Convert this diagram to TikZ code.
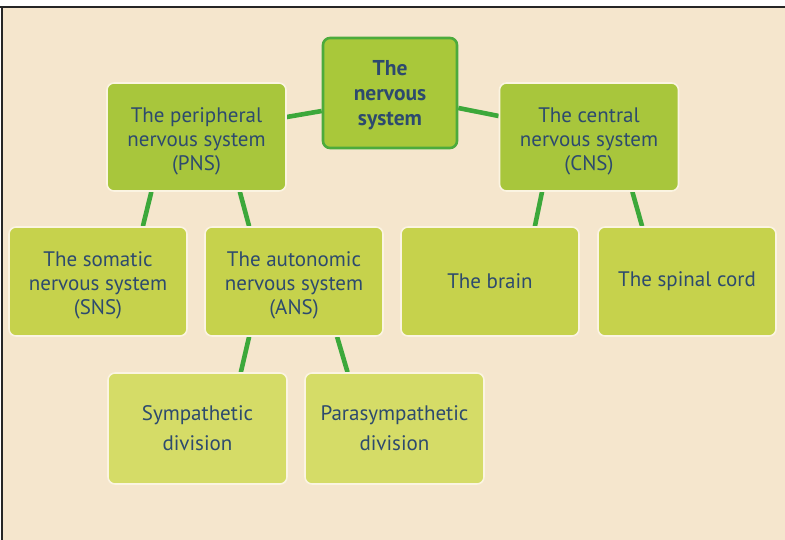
\documentclass[tikz,border=0pt]{standalone}
\usepackage{fontspec}
\setmainfont{PT Sans}
\usetikzlibrary{calc}
\pgfdeclarelayer{paper}
\pgfdeclarelayer{links}
\pgfsetlayers{paper,links,main}
\definecolor{paperbg}{HTML}{F5E6CD}
\definecolor{inkblue}{HTML}{2D4A6E}
\definecolor{linkgreen}{HTML}{3CA83A}
\definecolor{rootfill}{HTML}{A9C83A}
\definecolor{rootedge}{HTML}{4CAB3C}
\definecolor{topfill}{HTML}{A8C63C}
\definecolor{midfill}{HTML}{C6D24C}
\definecolor{lowfill}{HTML}{D5DC67}
\definecolor{rimcol}{HTML}{FBF4E2}
% taller first line pushes a text block a little lower in its box
\newcommand\firstline[1]{\rule{0pt}{#1}}
\tikzset{
  x=1pt, y=-1pt,
  box/.style={rectangle, rounded corners=7pt, align=center, text=inkblue,
    font=\fontsize{21}{24}\selectfont, draw=rimcol, line width=1.6pt, inner sep=0pt},
  rootbox/.style={box, fill=rootfill, draw=rootedge, line width=2.6pt,
    minimum width=134pt, minimum height=110pt, font=\bfseries\fontsize{21.5}{25}\selectfont},
  topbox/.style={box, fill=topfill, minimum width=179pt, minimum height=108pt},
  midbox/.style={box, fill=midfill, minimum width=178pt, minimum height=109pt},
  lowbox/.style={box, fill=lowfill, minimum width=179pt, minimum height=111pt},
  link/.style={draw=linkgreen, line width=4.6pt}
}
\begin{document}
\begin{tikzpicture}
% page and frame
\begin{pgfonlayer}{paper}
  \fill[white] (0,0) rectangle (785,540);
  \fill[paperbg] (2,7) rectangle (785,540);
  \fill[black!85] (0,6) rectangle (785,8.5);
  \fill[black!85] (0.5,6) rectangle (3,540);
\end{pgfonlayer}
\useasboundingbox (0,0) rectangle (785,540);

% boxes
\node[rootbox] (root) at (390,93) {\firstline{20pt}The\\nervous\\system};
\node[topbox] (pns) at (196.5,137) {\firstline{23pt}The peripheral\\nervous system\\(PNS)};
\node[topbox] (cns) at (589,137) {\firstline{23pt}The central\\nervous system\\(CNS)};
\node[midbox] (sns) at (98,281.5) {\firstline{23pt}The somatic\\nervous system\\(SNS)};
\node[midbox] (ans) at (294,281.5) {\firstline{23pt}The autonomic\\nervous system\\(ANS)};
\node[midbox] (brain) at (490,281.5) {The brain};
\node[midbox] (spinal) at (687,281.5) {The spinal cord};
\node[lowbox] (symp) at (197.5,428.5) {Sympathetic\\[6pt]division};
\node[lowbox] (para) at (394.5,428.5) {Parasympathetic\\[6pt]division};

% connectors
\begin{pgfonlayer}{links}
  \draw[link] ($(root.west)+(0,18)$) -- ($(pns.east)+(0,-20)$);
  \draw[link] ($(root.east)+(0,15)$) -- ($(cns.west)+(0,-21)$);
  \draw[link] ($(pns.south west)!0.25!(pns.south east)$) -- ($(sns.north west)!0.75!(sns.north east)$);
  \draw[link] ($(pns.south west)!0.74!(pns.south east)$) -- ($(ans.north west)!0.25!(ans.north east)$);
  \draw[link] ($(cns.south west)!0.24!(cns.south east)$) -- ($(brain.north west)!0.75!(brain.north east)$);
  \draw[link] ($(cns.south west)!0.74!(cns.south east)$) -- ($(spinal.north west)!0.25!(spinal.north east)$);
  \draw[link] ($(ans.south west)!0.25!(ans.south east)$) -- ($(symp.north west)!0.74!(symp.north east)$);
  \draw[link] ($(ans.south west)!0.74!(ans.south east)$) -- ($(para.north west)!0.24!(para.north east)$);
\end{pgfonlayer}
\end{tikzpicture}
\end{document}
